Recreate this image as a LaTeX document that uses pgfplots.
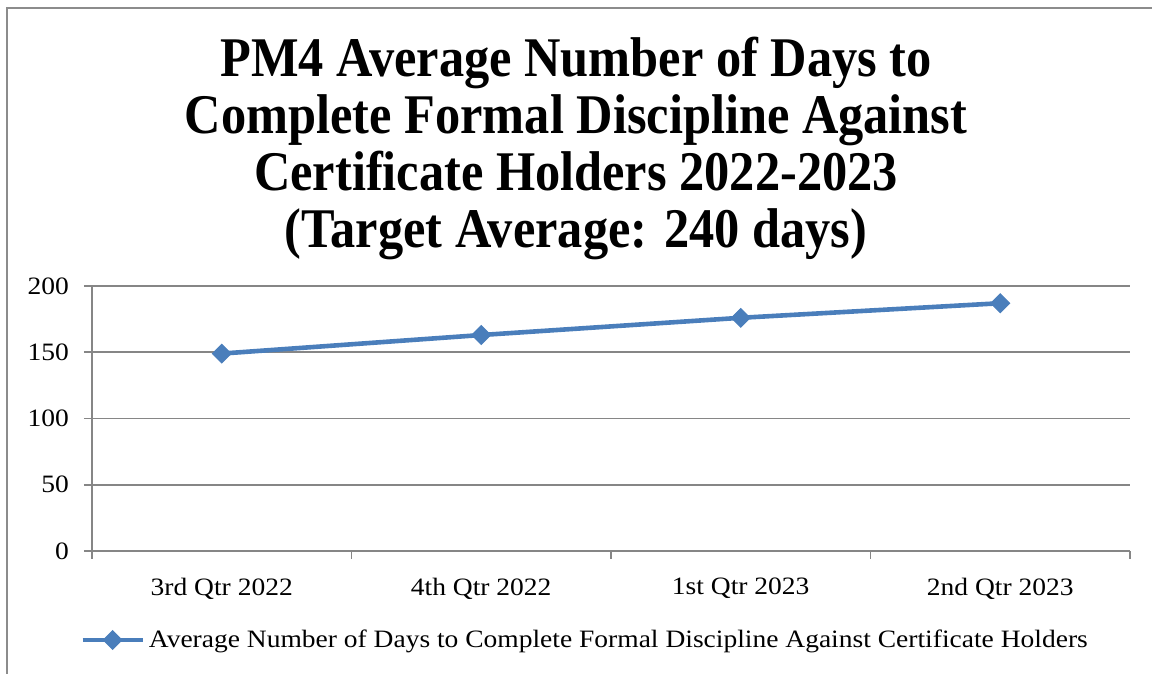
\documentclass[border=0pt]{standalone}
\usepackage{pgfplots}
\pgfplotsset{compat=1.18}
\usepackage{fontspec}
\setmainfont{Liberation Serif}
\newfontfamily\titlefont[FakeStretch=0.9]{Liberation Serif}
\newfontfamily\labelfont[FakeStretch=1.1]{Liberation Serif}
\definecolor{serblue}{HTML}{4A7EBB}
\definecolor{gridgray}{HTML}{868686}
\definecolor{framegray}{HTML}{8C8C8C}
\begin{document}
\begin{tikzpicture}
\useasboundingbox (0,0) rectangle (576pt,337pt);
\draw[framegray,line width=1pt] (3.5pt,-2pt) -- (3.5pt,333pt) -- (580pt,333pt);
\node[align=center,font=\titlefont\bfseries\fontsize{28}{28.5}\selectfont] at (288pt,263pt)
 {PM4 Average Number of Days to\\Complete Formal Discipline Against\\Certificate Holders 2022-2023\\(Target Average: 240 days)};
\begin{axis}[
  at={(46pt,61.5pt)}, anchor=south west,
  scale only axis, width=519pt, height=132.5pt,
  xmin=-0.5, xmax=3.5, ymin=0, ymax=200,
  axis x line=bottom, axis y line=left,
  axis line style={gridgray,line width=0.8pt,-},
  xtick={0,1,2,3},
  xticklabels={3rd Qtr 2022,4th Qtr 2022,1st Qtr 2023,2nd Qtr 2023},
  minor xtick={-0.5,0.5,1.5,2.5,3.5},
  major x tick style={draw=none},
  minor x tick style={gridgray,line width=0.8pt},
  ytick={0,50,100,150,200},
  ymajorgrids,
  major grid style={gridgray,line width=0.8pt},
  y tick style={gridgray,line width=0.8pt},
  tick align=outside,
  major tick length=4pt, minor tick length=4pt,
  tick label style={font=\labelfont\fontsize{12.5}{14}\selectfont},
  /pgf/number format/assume math mode=true,
  xticklabel style={yshift=-6pt},
  yticklabel style={xshift=-4pt},
  legend style={at={(axis description cs:0.476,-0.336)},anchor=center,draw=none,
    font=\labelfont\fontsize{12.5}{14}\selectfont, inner sep=0pt,
    legend cell align=left},
  legend image code/.code={\draw[mark repeat=2,mark phase=2,#1] plot coordinates {(0pt,0pt)(15pt,0pt)(30pt,0pt)};},
]
\addplot[serblue, line width=2.3pt, mark=square*, mark size=3.3pt,
  mark options={rotate=45,line width=0.5pt,fill=serblue}]
  coordinates {(0,149) (1,163) (2,176) (3,187)};
\addlegendentry{Average Number of Days to Complete Formal Discipline Against Certificate Holders}
\end{axis}
\end{tikzpicture}
\end{document}
